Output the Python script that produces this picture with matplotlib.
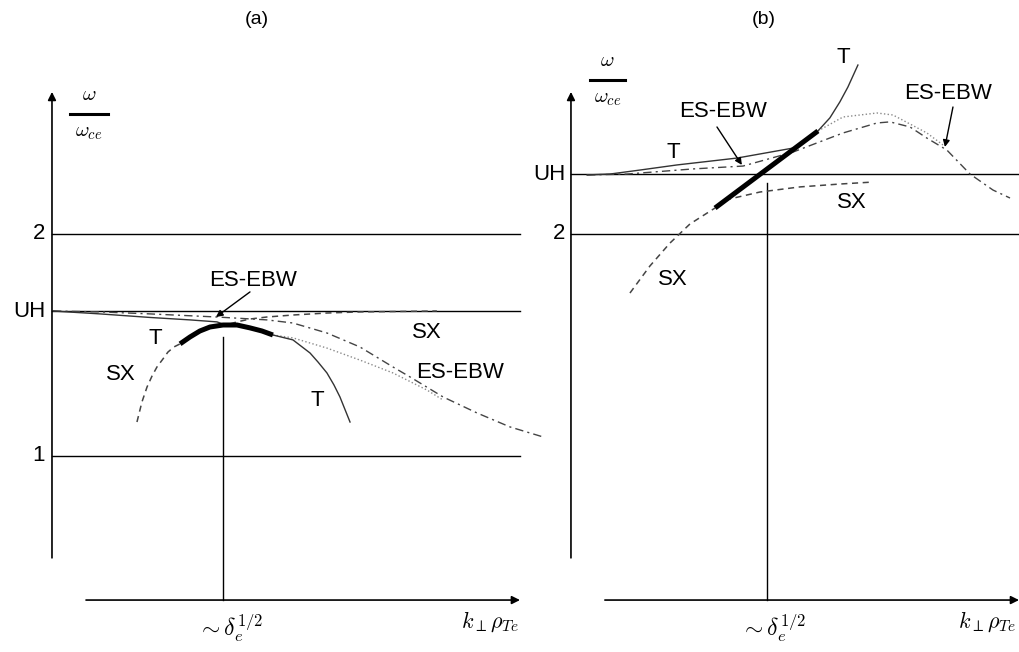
import matplotlib

matplotlib.use("Agg")
import matplotlib.pyplot as plt

plt.rcParams["font.family"] = ["Liberation Sans", "DejaVu Sans"]
plt.rcParams["mathtext.fontset"] = "cm"

# frequency levels, in units of omega_ce
LEVELS_A = [1.0, 1.653, 2.0]
LEVEL_LABELS_A = ["1", "UH", "2"]
LEVELS_B = [2.0, 2.270]
LEVEL_LABELS_B = ["2", "UH"]

# panel (a): k_perp rho_Te in units of delta_e^1/2, omega / omega_ce
A_T_LEFT_K = [0.006, 0.281, 0.573, 0.807, 0.965, 1.0]
A_T_LEFT_W = [1.653, 1.640, 1.624, 1.613, 1.604, 1.594]
A_THICK_K = [0.749, 0.807, 0.865, 0.924, 1.000, 1.082, 1.158, 1.228, 1.292]
A_THICK_W = [1.505, 1.536, 1.563, 1.581, 1.590, 1.590, 1.577, 1.563, 1.545]
A_T_RIGHT_K = [1.292, 1.409, 1.509, 1.556, 1.608, 1.649, 1.684, 1.743]
A_T_RIGHT_W = [1.545, 1.523, 1.464, 1.423, 1.374, 1.320, 1.266, 1.153]
A_SX_LOW_K = [0.497, 0.526, 0.556, 0.585, 0.614, 0.649, 0.678, 0.713, 0.749]
A_SX_LOW_W = [1.153, 1.243, 1.311, 1.360, 1.401, 1.437, 1.468, 1.491, 1.505]
A_SX_UP_K = [1.041, 1.082, 1.158, 1.257, 1.409, 1.608, 1.801, 2.035, 2.251]
A_SX_UP_W = [1.595, 1.604, 1.617, 1.626, 1.635, 1.644, 1.649, 1.651, 1.653]
A_EBW_K = [0.006, 0.281, 0.573, 0.965, 1.257, 1.409, 1.608, 1.801, 1.994,
           2.094, 2.287, 2.485, 2.678, 2.871]
A_EBW_W = [1.653, 1.649, 1.640, 1.626, 1.613, 1.599, 1.554, 1.491, 1.401,
           1.356, 1.266, 1.194, 1.131, 1.086]
A_DOT_K = [1.292, 1.409, 1.608, 1.801, 1.994, 2.193, 2.287]
A_DOT_W = [1.545, 1.532, 1.486, 1.432, 1.374, 1.297, 1.252]

# panel (b)
B_T_K = [0.082, 0.199, 0.352, 0.541, 0.847, 1.133]
B_T_W = [2.266, 2.270, 2.288, 2.311, 2.342, 2.387]
B_THICK_K = [0.735, 1.260]
B_THICK_W = [2.117, 2.464]
B_T_UP_K = [1.260, 1.321, 1.372, 1.413, 1.464]
B_T_UP_W = [2.464, 2.523, 2.595, 2.662, 2.761]
B_SX_LOW_K = [0.301, 0.403, 0.505, 0.607, 0.735]
B_SX_LOW_W = [1.734, 1.856, 1.959, 2.045, 2.117]
B_SX_UP_K = [0.786, 0.964, 1.168, 1.372, 1.541]
B_SX_UP_W = [2.153, 2.189, 2.212, 2.225, 2.234]
B_EBW_K = [0.082, 0.286, 0.622, 0.878, 1.133, 1.388, 1.561, 1.628, 1.730,
           1.816, 1.918, 2.036, 2.153, 2.240]
B_EBW_W = [2.266, 2.270, 2.293, 2.306, 2.369, 2.455, 2.500, 2.505, 2.482,
           2.432, 2.378, 2.270, 2.198, 2.162]
B_DOT_K = [1.260, 1.388, 1.561, 1.643, 1.816, 1.898]
B_DOT_W = [2.464, 2.527, 2.545, 2.536, 2.455, 2.401]

SOLID = dict(color="#333333", lw=1.0)
THICK = dict(color="black", lw=3.6, solid_capstyle="butt")
DASHED = dict(color="#444444", lw=1.1, dashes=(4, 3))
DASHDOT = dict(color="#444444", lw=1.0, dashes=(6, 3, 1.5, 3))
DOTTED = dict(color="#8a8a8a", lw=1.0, ls=":")
FS = 16


def arrow(ax, tail, tip, lw=1.2, scale=12):
    ax.annotate("", xy=tip, xytext=tail,
                arrowprops=dict(arrowstyle="-|>", lw=lw, color="black",
                                mutation_scale=scale, shrinkA=0, shrinkB=0))


def frame(ax, levels, labels, k_end, x_start, vline_top, label_k):
    for w, lab in zip(levels, labels):
        ax.plot([0, k_end], [w, w], color="black", lw=1.0)
        ax.text(label_k, w, lab, fontsize=FS, ha="right", va="center")
    arrow(ax, (0, 0.541), (0, 2.64))
    arrow(ax, (x_start, 0.351), (k_end, 0.351))
    ax.plot([1, 1], [0.351, vline_top], color="black", lw=1.0)


def omega_label(ax, k0, k1, w_bar):
    kc = 0.5 * (k0 + k1)
    ax.plot([k0, k1], [w_bar, w_bar], color="black", lw=2.2)
    ax.text(kc, w_bar + 0.045, r"$\omega$", fontsize=15, ha="center", va="bottom")
    ax.text(kc, w_bar - 0.04, r"$\omega_{ce}$", fontsize=15, ha="center", va="top")


fig = plt.figure(figsize=(10.2, 6.52), dpi=100)
ylim = (0.117, 3.054)

# ---- panel (a)
ax = fig.add_axes([0, 0, 560 / 1020, 1])
ax.set_xlim(-0.304, 2.971)
ax.set_ylim(*ylim)
ax.axis("off")
frame(ax, LEVELS_A, LEVEL_LABELS_A, 2.737, 0.199, 1.536, -0.04)
ax.plot(A_EBW_K, A_EBW_W, **DASHDOT)
ax.plot(A_DOT_K, A_DOT_W, **DOTTED)
ax.plot(A_SX_LOW_K, A_SX_LOW_W, **DASHED)
ax.plot(A_SX_UP_K, A_SX_UP_W, **DASHED)
ax.plot(A_T_LEFT_K, A_T_LEFT_W, **SOLID)
ax.plot(A_T_RIGHT_K, A_T_RIGHT_W, **SOLID)
ax.plot(A_THICK_K, A_THICK_W, **THICK)
omega_label(ax, 0.105, 0.327, 2.541)
ax.text(0.602, 1.527, "T", fontsize=FS, ha="center", va="center")
ax.text(0.404, 1.369, "SX", fontsize=FS, ha="center", va="center")
ax.text(2.193, 1.554, "SX", fontsize=FS, ha="center", va="center")
ax.text(2.386, 1.374, "ES-EBW", fontsize=FS, ha="center", va="center")
ax.text(1.550, 1.252, "T", fontsize=FS, ha="center", va="center")
ax.text(1.175, 1.79, "ES-EBW", fontsize=FS, ha="center", va="center")
arrow(ax, (1.158, 1.739), (0.959, 1.626), lw=1.0, scale=10)
ax.text(1.041, 0.225, r"$\sim\delta_e^{1/2}$", fontsize=17, ha="center", va="center")
ax.text(2.561, 0.252, r"$k_{\perp}\rho_{Te}$", fontsize=16, ha="center", va="center")

# ---- panel (b)
bx = fig.add_axes([520 / 1020, 0, 500 / 1020, 1])
bx.set_xlim(-0.260, 2.291)
bx.set_ylim(*ylim)
bx.axis("off")
bx.patch.set_visible(False)
frame(bx, LEVELS_B, LEVEL_LABELS_B, 2.286, 0.173, 2.230, -0.03)
bx.plot(B_EBW_K, B_EBW_W, **DASHDOT)
bx.plot(B_DOT_K, B_DOT_W, **DOTTED)
bx.plot(B_SX_LOW_K, B_SX_LOW_W, **DASHED)
bx.plot(B_SX_UP_K, B_SX_UP_W, **DASHED)
bx.plot(B_T_K, B_T_W, **SOLID)
bx.plot(B_T_UP_K, B_T_UP_W, **SOLID)
bx.plot(B_THICK_K, B_THICK_W, **THICK)
omega_label(bx, 0.097, 0.276, 2.694)
bx.text(0.520, 2.365, "T", fontsize=FS, ha="center", va="center")
bx.text(0.776, 2.55, "ES-EBW", fontsize=FS, ha="center", va="center")
arrow(bx, (0.745, 2.482), (0.872, 2.311), lw=1.0, scale=10)
bx.text(1.388, 2.797, "T", fontsize=FS, ha="center", va="center")
bx.text(1.923, 2.635, "ES-EBW", fontsize=FS, ha="center", va="center")
arrow(bx, (1.949, 2.572), (1.908, 2.392), lw=1.0, scale=10)
bx.text(1.434, 2.140, "SX", fontsize=FS, ha="center", va="center")
bx.text(0.520, 1.793, "SX", fontsize=FS, ha="center", va="center")
bx.text(1.031, 0.225, r"$\sim\delta_e^{1/2}$", fontsize=17, ha="center", va="center")
bx.text(2.122, 0.252, r"$k_{\perp}\rho_{Te}$", fontsize=16, ha="center", va="center")

fig.text(257 / 1020, 1 - 20 / 652, "(a)", fontsize=14, ha="center", va="center")
fig.text(764 / 1020, 1 - 20 / 652, "(b)", fontsize=14, ha="center", va="center")

fig.savefig("out.png", dpi=100)
